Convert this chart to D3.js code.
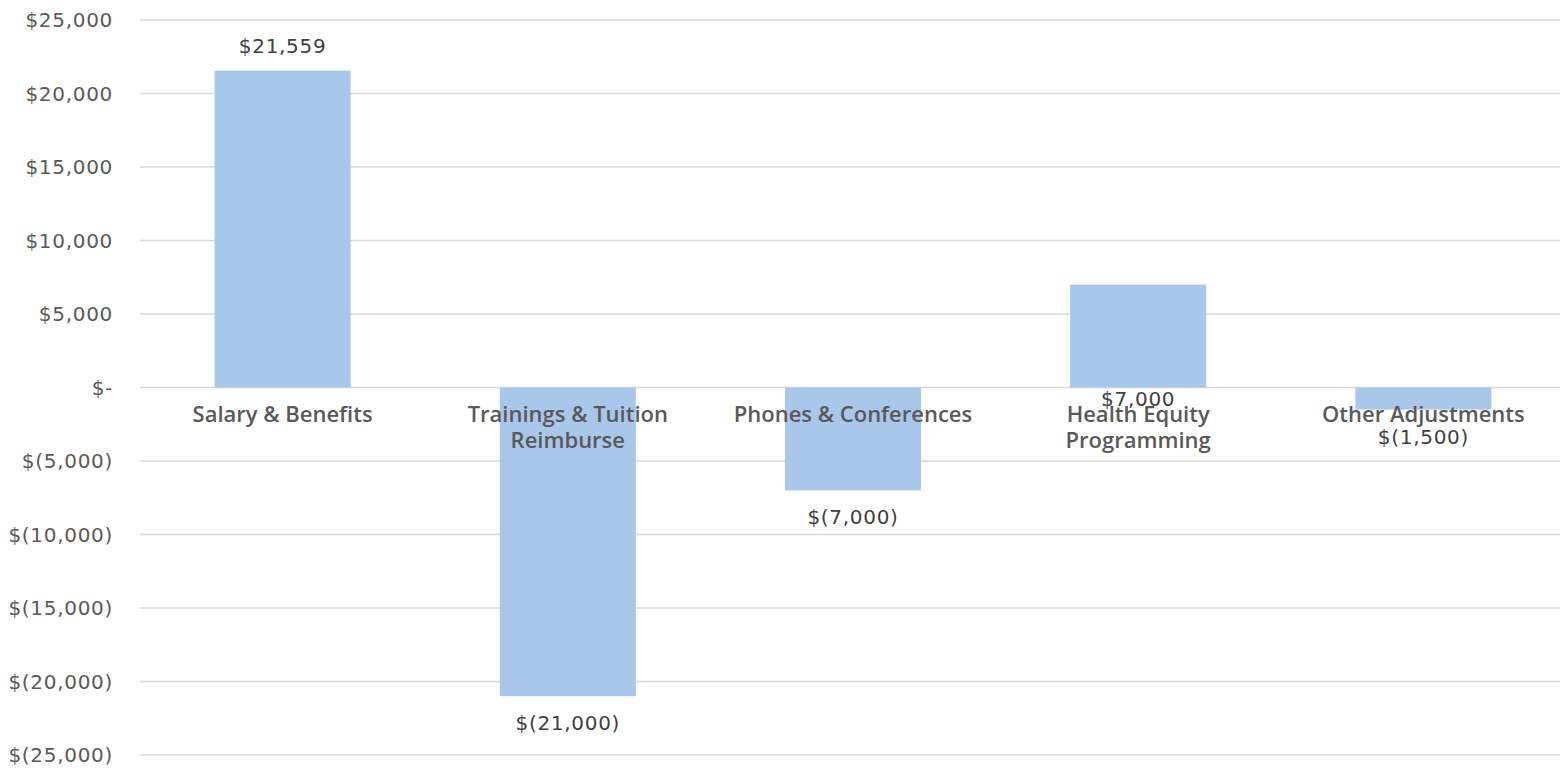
<!DOCTYPE html>
<html lang="en">
<head>
    <meta charset="UTF-8">
    <title>Budget Changes</title>
    <style>
        body { margin: 0; background: #fff; }
        .grid line { stroke: #d9d9d9; stroke-width: 1.5px; }
        .tick-label { font-family: "DejaVu Sans", sans-serif; font-size: 20px; letter-spacing: 0.7px; fill: #595959; }
        .value-label { font-family: "DejaVu Sans", sans-serif; font-size: 20px; letter-spacing: 0.7px; fill: #404040; }
        .cat-label { font-family: "Open Sans", sans-serif; font-size: 22px; font-weight: 600; fill: #595959; }
    </style>
    <script src="https://d3js.org/d3.v7.min.js"></script>
</head>
<body>
    <script>
        // chart data
        const categories = ["Salary & Benefits", "Trainings & Tuition\nReimburse", "Phones & Conferences", "Health Equity\nProgramming", "Other Adjustments"];
        const values = [21559, -21000, -7000, 7000, -1500];
        const yTicks = [25000, 20000, 15000, 10000, 5000, 0, -5000, -10000, -15000, -20000, -25000];

        const width = 1560, height = 769;
        const svg = d3.select("body").append("svg")
            .attr("width", width)
            .attr("height", height);

        const x = d3.scaleBand()
            .domain(categories)
            .range([140, 1566])
            .paddingInner(0.523)
            .paddingOuter(0.2615);

        const y = d3.scaleLinear()
            .domain([-25000, 25000])
            .range([755, 20]);

        const money = d3.format(",");
        function fmt(v) {
            if (v === 0) return "$-";
            return v < 0 ? "$(" + money(-v) + ")" : "$" + money(v);
        }

        // gridlines
        svg.append("g").attr("class", "grid")
            .selectAll("line")
            .data(yTicks)
            .enter().append("line")
            .attr("x1", 140).attr("x2", width)
            .attr("y1", d => y(d)).attr("y2", d => y(d));

        // y tick labels
        svg.append("g")
            .selectAll("text")
            .data(yTicks)
            .enter().append("text")
            .attr("class", "tick-label")
            .attr("x", 113)
            .attr("y", d => y(d))
            .attr("dy", "0.35em")
            .attr("text-anchor", "end")
            .text(fmt);

        // bars
        svg.append("g")
            .selectAll("rect")
            .data(values)
            .enter().append("rect")
            .attr("x", (d, i) => x(categories[i]))
            .attr("width", x.bandwidth())
            .attr("y", d => y(Math.max(0, d)))
            .attr("height", d => Math.abs(y(d) - y(0)))
            .attr("fill", "#a9c7eb");

        // category labels
        svg.append("g")
            .selectAll("text")
            .data(categories)
            .enter().append("text")
            .attr("class", "cat-label")
            .attr("text-anchor", "middle")
            .attr("x", d => x(d) + x.bandwidth() / 2)
            .attr("y", y(0) + 34)
            .each(function (d) {
                const t = d3.select(this);
                d.split("\n").forEach((line, k) => {
                    t.append("tspan")
                        .attr("x", x(d) + x.bandwidth() / 2)
                        .attr("dy", k === 0 ? 0 : 26)
                        .text(line);
                });
            });

        // value labels (Health Equity label sits just under the axis)
        const movedLabel = 3;
        svg.append("g")
            .selectAll("text")
            .data(values)
            .enter().append("text")
            .attr("class", "value-label")
            .attr("text-anchor", "middle")
            .attr("x", (d, i) => x(categories[i]) + x.bandwidth() / 2)
            .attr("y", (d, i) => {
                if (i === movedLabel) return y(0) + 18;
                return d >= 0 ? y(d) - 18 : y(d) + 34;
            })
            .text(fmt);
    </script>
</body>
</html>
